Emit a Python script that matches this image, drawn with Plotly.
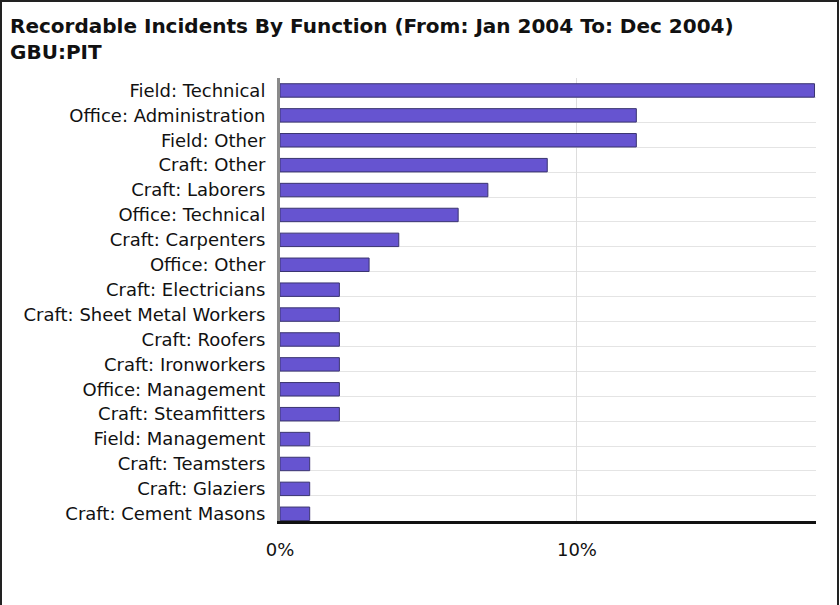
import plotly.graph_objects as go

functions = [
    "Field: Technical", "Office: Administration", "Field: Other", "Craft: Other",
    "Craft: Laborers", "Office: Technical", "Craft: Carpenters", "Office: Other",
    "Craft: Electricians", "Craft: Sheet Metal Workers", "Craft: Roofers",
    "Craft: Ironworkers", "Office: Management", "Craft: Steamfitters",
    "Field: Management", "Craft: Teamsters", "Craft: Glaziers", "Craft: Cement Masons",
]
pct = [18, 12, 12, 9, 7, 6, 4, 3, 2, 2, 2, 2, 2, 2, 1, 1, 1, 1]
x_ticks = [0, 10]
x_tick_labels = ["0%", "10%"]

W, H = 840, 605
ml, mr, mt, mb = 280, 24, 78, 84
pw, ph = W - ml - mr, H - mt - mb

lab_font = dict(family="DejaVu Sans", size=18, color="#111111")

fig = go.Figure()
fig.add_trace(go.Bar(
    x=pct, y=list(range(len(functions))), orientation="h", width=0.54,
    marker=dict(color="#6654d0", line=dict(color="#3a3470", width=1)),
    hoverinfo="x+text", text=functions, textposition="none",
))

fig.update_layout(
    width=W, height=H,
    margin=dict(l=ml, r=mr, t=mt, b=mb, autoexpand=False),
    paper_bgcolor="white", plot_bgcolor="white",
    showlegend=False,
    title=dict(
        text="<b>Recordable Incidents By Function (From: Jan 2004 To: Dec 2004)<br>GBU:PIT</b>",
        x=10 / W, xanchor="left", xref="container",
        y=1 - 33 / H, yanchor="middle", yref="container",
        font=dict(family="DejaVu Sans", size=20, color="#111111"),
    ),
    xaxis=dict(
        range=[0, 18.05], tickvals=x_ticks, ticktext=x_tick_labels,
        showgrid=True, gridcolor="#dddddd", gridwidth=1, zeroline=False,
        showline=True, linecolor="#111111", linewidth=3,
        ticks="", tickfont=lab_font, ticklabelstandoff=10,
        fixedrange=True,
    ),
    yaxis=dict(
        range=[17.29, -0.5], tickvals=list(range(len(functions))), ticktext=functions,
        showgrid=False, zeroline=False,
        showline=True, linecolor="#8a8a8a", linewidth=3,
        ticks="", tickfont=lab_font, ticklabelstandoff=8,
        minor=dict(tick0=0.28, dtick=1, showgrid=True, gridcolor="#e4e4e4", gridwidth=1, ticks=""),
        fixedrange=True,
    ),
    shapes=[dict(
        type="rect", xref="paper", yref="paper",
        x0=-(ml - 1) / pw, x1=1 + (mr - 2) / pw,
        y0=-(mb + 5) / ph, y1=1 + (mt - 1) / ph,
        line=dict(color="#222222", width=2), layer="above",
    )],
)

# page body has an 8px default margin; drop it so the figure sits at the window corner
fig.write_html("out.html", config={"displayModeBar": False},
               post_script="document.body.style.margin='0';")
